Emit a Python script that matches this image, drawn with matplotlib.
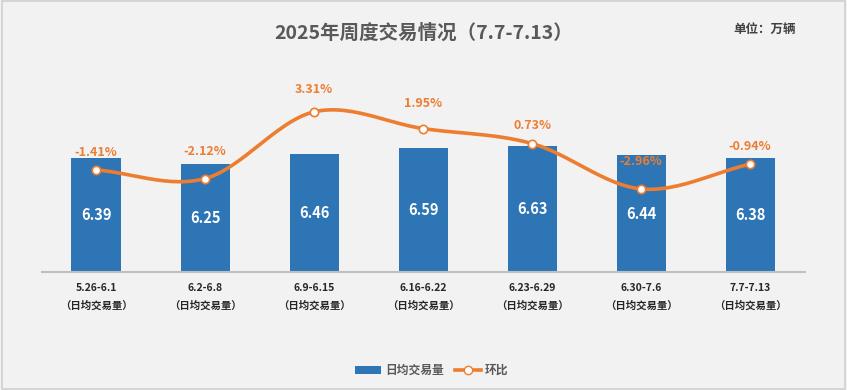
import numpy as np
import matplotlib
matplotlib.use('Agg')
import matplotlib.pyplot as plt
from matplotlib.lines import Line2D
from matplotlib.patches import Patch

plt.rcParams['font.family'] = ['Noto Sans CJK SC', 'DejaVu Sans']

# data
weeks = ['5.26-6.1', '6.2-6.8', '6.9-6.15', '6.16-6.22', '6.23-6.29', '6.30-7.6', '7.7-7.13']
daily_volume = [6.39, 6.25, 6.46, 6.59, 6.63, 6.44, 6.38]
wow_change = [-1.41, -2.12, 3.31, 1.95, 0.73, -2.96, -0.94]

bar_color = '#2E75B6'
line_color = '#ED7D31'
text_color = '#595959'
bg = '#F2F2F2'

fig = plt.figure(figsize=(8.47, 3.90), dpi=100, facecolor=bg)
ax = fig.add_axes([0.049, 0.3026, 0.901, 0.49])
ax.set_facecolor(bg)
x = np.arange(len(weeks))

ax.bar(x, daily_volume, width=0.45, color=bar_color, zorder=2)
ax.set_ylim(4, 8)
ax.set_xlim(-0.5, len(weeks) - 0.5)
for xi, v in zip(x, daily_volume):
    ax.text(xi, (4 + v) / 2, f'{v:.2f}', ha='center', va='center', color='white',
            fontsize=10.5, fontweight='bold', zorder=3)

ax.set_yticks([])
for s in ['top', 'right', 'left']:
    ax.spines[s].set_visible(False)
ax.spines['bottom'].set_color('#BFBFBF')
ax.spines['bottom'].set_linewidth(1.5)
ax.set_xticks(x)
ax.set_xticklabels([f'{w}\n（日均交易量）' for w in weeks], fontsize=7.5,
                   fontweight='bold', color='#262626', linespacing=1.9)
ax.tick_params(axis='x', length=0, pad=8)

# secondary axis for week-on-week change
ax2 = ax.twinx()
ax2.set_ylim(-9.72, 5.83)
ax2.set_yticks([])
for s in ax2.spines.values():
    s.set_visible(False)


# smooth curve through the points (Catmull-Rom)
def smooth(xs, ys, n=30):
    px = np.concatenate([[2 * xs[0] - xs[1]], xs, [2 * xs[-1] - xs[-2]]])
    py = np.concatenate([[2 * ys[0] - ys[1]], ys, [2 * ys[-1] - ys[-2]]])
    ox, oy = [], []
    for i in range(1, len(px) - 2):
        t = np.linspace(0, 1, n)
        for p, out in ((px, ox), (py, oy)):
            p0, p1, p2, p3 = p[i - 1], p[i], p[i + 1], p[i + 2]
            out.extend(0.5 * ((2 * p1) + (-p0 + p2) * t + (2 * p0 - 5 * p1 + 4 * p2 - p3) * t ** 2
                              + (-p0 + 3 * p1 - 3 * p2 + p3) * t ** 3))
    return np.array(ox), np.array(oy)


sx, sy = smooth(x.astype(float), np.array(wow_change, dtype=float))
ax2.plot(sx, sy, color=line_color, lw=2.6, zorder=4, solid_capstyle='round')
ax2.plot(x, wow_change, 'o', ms=6, mfc='white', mec=line_color, mew=1.2, zorder=5)

# label offsets in pixels above each point
label_offsets = [17, 27, 22, 25, 18, 27, 18]
for xi, v, off in zip(x, wow_change, label_offsets):
    ax2.annotate(f'{v:.2f}%', (xi, v), xytext=(0, off), textcoords='offset pixels',
                 ha='center', va='center', color=line_color, fontsize=9, fontweight='bold', zorder=6)

fig.text(0.5, 0.915, '2025年周度交易情况（7.7-7.13）', ha='center', va='center',
         fontsize=14, fontweight='bold', color=text_color)
fig.text(0.903, 0.925, '单位：万辆', ha='center', va='center',
         fontsize=9, fontweight='bold', color='#404040')

handles = [Patch(facecolor=bar_color, label='日均交易量'),
           Line2D([0], [0], color=line_color, lw=2.6, marker='o', ms=6, mfc='white',
                  mec=line_color, label='环比')]
fig.legend(handles=handles, loc='center', bbox_to_anchor=(0.51, 0.05), ncol=2, frameon=False,
           prop={'weight': 'bold', 'size': 8.5}, labelcolor=text_color,
           handlelength=2.2, handleheight=0.7, columnspacing=1.0, handletextpad=0.3)

fig.add_artist(plt.Rectangle((0.002, 0.003), 0.996, 0.994, transform=fig.transFigure,
                             fill=False, edgecolor='#D0D0D0', lw=1.2))

fig.savefig('out.png', dpi=100, facecolor=bg)
